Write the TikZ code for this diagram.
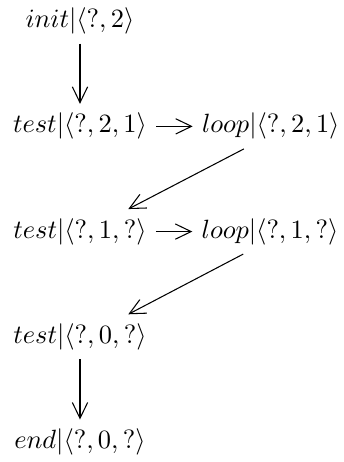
\documentclass[tikz,border=0pt]{standalone}
\usetikzlibrary{arrows.meta, positioning}
\begin{document}
\begin{tikzpicture}[
    node distance=22.8pt and 13.8pt,
    state/.style={inner sep=3.33pt},
    arrow/.style={-{Straight Barb[length=6pt, width=5.8pt]}}
]
\useasboundingbox (0,0) rectangle (130pt,-175pt);

% Left column
\node[state] (init) at (30.3pt,-8pt) {$init|\langle ?,2\rangle$};
\node[state, below=of init] (test1) {$test|\langle ?,2,1\rangle$};
\node[state, below=of test1] (test2) {$test|\langle ?,1,?\rangle$};
\node[state, below=of test2] (test3) {$test|\langle ?,0,?\rangle$};
\node[state, below=of test3] (end) {$end|\langle ?,0,?\rangle$};

% Right column
\node[state, right=of test1] (loop1) {$loop|\langle ?,2,1\rangle$};
\node[state, right=of test2] (loop2) {$loop|\langle ?,1,?\rangle$};

% Transitions
\draw[arrow] (init) -- (test1);
\draw[arrow] (test1) -- (loop1);
\draw[arrow] (loop1.220) -- (test2.25);
\draw[arrow] (test2) -- (loop2);
\draw[arrow] (loop2.220) -- (test3.25);
\draw[arrow] (test3) -- (end);

\end{tikzpicture}
\end{document}
